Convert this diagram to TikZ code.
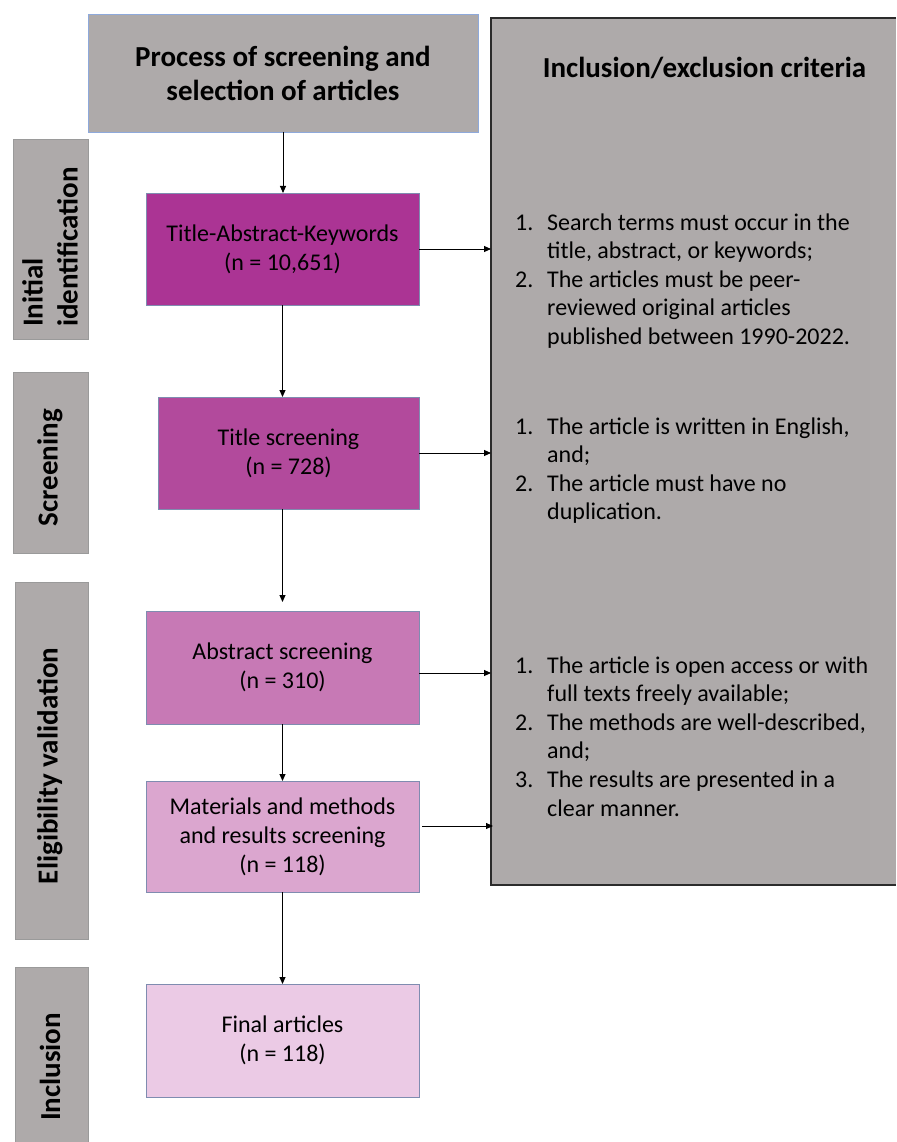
\documentclass[tikz,border=0pt]{standalone}
\usepackage{fontspec}
\setmainfont{Carlito}
\usetikzlibrary{arrows.meta,calc}
\definecolor{boxgray}{HTML}{AEAAAA}
\definecolor{cA}{HTML}{AB3494}
\definecolor{cB}{HTML}{B24A9C}
\definecolor{cC}{HTML}{C779B5}
\definecolor{cD}{HTML}{DBA6CF}
\definecolor{cE}{HTML}{EBCAE5}
\definecolor{bluebd}{HTML}{8EA9DB}
\definecolor{boxbd}{HTML}{7F8CB0}
\definecolor{graybd}{HTML}{9A9A9A}
\definecolor{critbd}{HTML}{2B2B2B}
\begin{document}
\begin{tikzpicture}[x=1pt,y=-1pt,
  stagebox/.style={rectangle, draw=boxbd, line width=0.8pt, inner sep=0pt, outer sep=0pt,
    minimum width=273pt, align=center, font=\fontsize{24}{29}\selectfont},
  sidebox/.style={rectangle, fill=boxgray, draw=graybd, line width=0.8pt, inner sep=0pt, outer sep=0pt},
  sidelabel/.style={rotate=90, font=\bfseries\fontsize{29}{35}\selectfont, inner sep=0pt, align=left},
  crittext/.style={inner sep=0pt, anchor=base west, font=\fontsize{24}{28.6}\selectfont},
  headtext/.style={font=\bfseries\fontsize{29}{34}\selectfont},
  arr/.style={-{Triangle[length=7pt,width=6pt]}, line width=0.9pt, black},
]
\useasboundingbox (0,0) rectangle (896,1142);
\fill[white] (0,0) rectangle (896,1142);

% header box
\node[rectangle, fill=boxgray, draw=bluebd, line width=0.9pt, minimum width=390pt, minimum height=118pt,
  inner sep=0pt, outer sep=0pt, align=center, headtext] (title) at (283,73)
  {Process of screening and\\selection of articles};

% criteria panel
\node[fill=boxgray, minimum width=405pt, minimum height=867pt, inner sep=0pt, outer sep=0pt] (crit) at (693.5,451.5) {};
\draw[critbd, line width=1.3pt] (crit.north east) -- (crit.north west) -- (crit.south west) -- (crit.south east);
\node[headtext, anchor=base, inner sep=0pt] (crithead) at (704.5,78) {Inclusion/exclusion criteria};

\node[crittext] (g1) at (515,230) {\begin{tabular}[t]{@{}l@{}l@{}}
\makebox[32pt][l]{1.}&Search terms must occur in the\\
 &title, abstract, or keywords;\\
\makebox[32pt][l]{2.}&The articles must be peer-\\
 &reviewed original articles\\
 &published between 1990-2022.\end{tabular}};
\node[crittext] (g2) at (515,434) {\begin{tabular}[t]{@{}l@{}l@{}}
\makebox[32pt][l]{1.}&The article is written in English,\\
 &and;\\
\makebox[32pt][l]{2.}&The article must have no\\
 &duplication.\end{tabular}};
\node[crittext] (g3) at (515,673) {\begin{tabular}[t]{@{}l@{}l@{}}
\makebox[32pt][l]{1.}&The article is open access or with\\
 &full texts freely available;\\
\makebox[32pt][l]{2.}&The methods are well-described,\\
 &and;\\
\makebox[32pt][l]{3.}&The results are presented in a\\
 &clear manner.\end{tabular}};

% side stage boxes
\node[sidebox, minimum width=75pt, minimum height=200pt] (s1) at (50.5,239) {};
\node[sidelabel, anchor=west] (l1) at (50,327) {Initial\\identification};
\node[sidebox, minimum width=75pt, minimum height=181pt] (s2) at (50.5,462.5) {};
\node[sidelabel] (l2) at (50,467.5) {Screening};
\node[sidebox, minimum width=73pt, minimum height=357pt] (s3) at (51.5,760.5) {};
\node[sidelabel] (l3) at (50,766) {Eligibility validation};
\node[fill=boxgray, minimum width=73pt, minimum height=175pt, inner sep=0pt, outer sep=0pt] (s4) at (51.5,1054.5) {};
\draw[graybd, line width=0.8pt] (s4.south west) -- (s4.north west) -- (s4.north east) -- (s4.south east);
\node[sidelabel] (l4) at (50,1067) {Inclusion};

% stage boxes
\node[stagebox, fill=cA, minimum height=112pt] (tak) at (282.5,249) {Title-Abstract-Keywords\\(n = 10,651)};
\node[stagebox, fill=cB, minimum width=261pt, minimum height=112pt] (ts) at (288.5,453) {Title screening\\(n = 728)};
\node[stagebox, fill=cC, minimum height=113pt] (abs) at (282.5,667.5) {Abstract screening\\(n = 310)};
\node[stagebox, fill=cD, minimum height=111pt] (mat) at (282.5,836.5) {Materials and methods\\and results screening\\(n = 118)};
\node[stagebox, fill=cE, minimum height=113pt] (fin) at (282.5,1040.5) {Final articles\\(n = 118)};

% vertical arrows
\coordinate (absin) at ($(tak.south |- abs.north)+(0,-9)$);
\draw[arr] (title.south) -- (title.south |- tak.north);
\draw[arr] (tak.south) -- (tak.south |- ts.north);
\draw[arr] (tak.south |- ts.south) -- (absin);
\draw[arr] (abs.south) -- (abs.south |- mat.north);
\draw[arr] (mat.south) -- (mat.south |- fin.north);

% horizontal arrows
\coordinate (a3) at ($(abs.east)+(0,5.5)$);
\coordinate (a4) at ($(mat.east)+(3,-10.5)$);
\draw[arr] (tak.east) -- (tak.east -| crit.west);
\draw[arr] (ts.east) -- (ts.east -| crit.west);
\draw[arr] (a3) -- (a3 -| crit.west);
\draw[arr] (a4) -- ($(a4 -| crit.west)+(2,0)$);
\end{tikzpicture}
\end{document}
